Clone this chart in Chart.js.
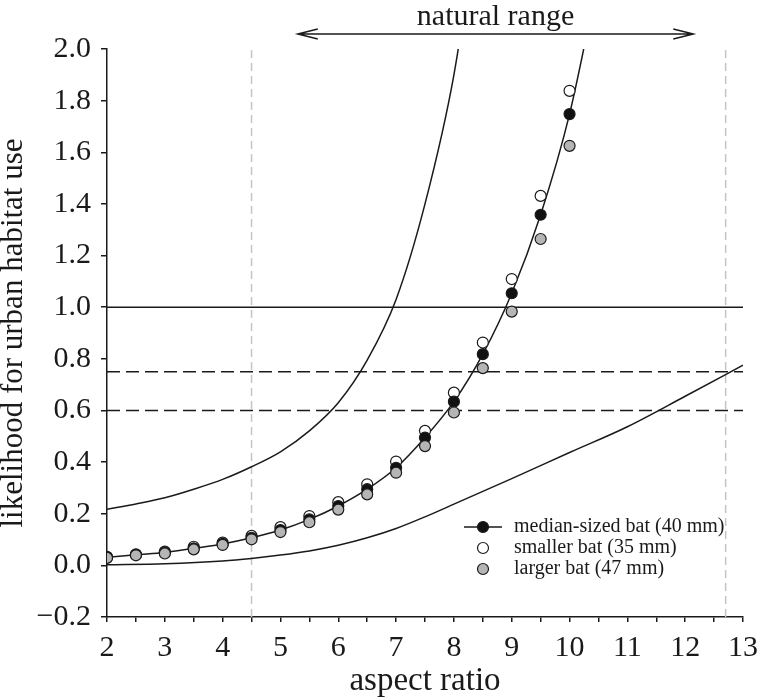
<!DOCTYPE html>
<html>
<head>
<meta charset="utf-8">
<script src="https://cdn.jsdelivr.net/npm/chart.js@4.4.0/dist/chart.umd.min.js"></script>
<style>
  body { margin: 0; background: #fff; }
  #wrap { width: 759px; height: 698px; }
</style>
</head>
<body>
<div id="wrap"><canvas id="chart"></canvas></div>
<script>
const FONT = '"Liberation Serif", "Times New Roman", serif';
const INK = '#1a1a1a';

// bat points (aspect ratio 2..10 in steps of 0.5)
const batX = [2, 2.5, 3, 3.5, 4, 4.5, 5, 5.5, 6, 6.5, 7, 7.5, 8, 8.5, 9, 9.5, 10];
const medianBat  = [0.031, 0.041, 0.050, 0.066, 0.083, 0.107, 0.137, 0.178, 0.230, 0.295, 0.378, 0.495, 0.634, 0.818, 1.054, 1.358, 1.748];
const smallerBat = [0.033, 0.043, 0.053, 0.072, 0.088, 0.114, 0.148, 0.191, 0.245, 0.314, 0.402, 0.521, 0.669, 0.863, 1.109, 1.431, 1.838];
const largerBat  = [0.029, 0.039, 0.046, 0.062, 0.079, 0.101, 0.129, 0.167, 0.216, 0.275, 0.359, 0.462, 0.592, 0.764, 0.983, 1.264, 1.625];

// fitted line for the median bat, running on past the top of the plot
const medianFitX = [2, 2.5, 3, 3.5, 4, 4.5, 5, 5.5, 6, 6.5, 7, 7.5, 8, 8.5, 9, 9.5, 10, 10.5];
const medianFit  = [0.031, 0.041, 0.050, 0.066, 0.083, 0.107, 0.137, 0.178, 0.230, 0.295, 0.378, 0.495, 0.634, 0.818, 1.054, 1.358, 1.748, 2.28];

// upper and lower curves
const upperX = [2, 2.5, 3, 3.5, 4, 4.5, 5, 5.5, 6, 6.5, 7, 7.5, 8, 8.5];
const upperCurve = [0.217, 0.238, 0.262, 0.295, 0.333, 0.382, 0.440, 0.521, 0.630, 0.795, 1.030, 1.400, 1.900, 2.65];
const lowerX = [2, 3, 4, 4.5, 5, 5.5, 6, 6.5, 7, 7.5, 8, 9, 10, 11, 12, 13];
const lowerCurve = [0.002, 0.006, 0.017, 0.027, 0.040, 0.056, 0.078, 0.107, 0.143, 0.188, 0.237, 0.336, 0.437, 0.537, 0.655, 0.775];

// reference lines
const solidLevels = [1.0];
const dashedLevels = [0.75, 0.6];
const rangeLimits = [4.5, 12.7];
const naturalRange = [5.3, 12.14];

const xRange = [2, 13];
const yRange = [-0.2, 2.0];

const legendItems = [
    { label: 'median-sized bat (40 mm)', fill: '#111111', line: true },
    { label: 'smaller bat (35 mm)', fill: '#ffffff', line: false },
    { label: 'larger bat (47 mm)', fill: '#b5b5b5', line: false }
];

const toXY = (xs, ys) => xs.map((x, i) => ({ x: x, y: ys[i] }));

function pointSet(ys, fill) {
    return {
        data: toXY(batX, ys),
        showLine: false,
        pointRadius: 5.5,
        pointBorderWidth: 1.2,
        pointBorderColor: INK,
        pointBackgroundColor: fill
    };
}

function lineSet(data, opts) {
    return Object.assign({
        data: data,
        showLine: true,
        borderColor: INK,
        borderWidth: 1.5,
        pointRadius: 0,
        fill: false
    }, opts || {});
}

const datasets = [
    pointSet(largerBat, '#b5b5b5'),
    pointSet(medianBat, '#111111'),
    pointSet(smallerBat, '#ffffff'),
    lineSet(toXY(medianFitX, medianFit), { cubicInterpolationMode: 'monotone' }),
    lineSet(toXY(upperX, upperCurve), { cubicInterpolationMode: 'monotone' }),
    lineSet(toXY(lowerX, lowerCurve), { cubicInterpolationMode: 'monotone' })
];
solidLevels.forEach(v => datasets.push(lineSet([{ x: xRange[0], y: v }, { x: xRange[1], y: v }])));
dashedLevels.forEach(v => datasets.push(lineSet([{ x: xRange[0], y: v }, { x: xRange[1], y: v }], { borderDash: [13, 6] })));
rangeLimits.forEach(v => datasets.push(lineSet([{ x: v, y: yRange[0] }, { x: v, y: yRange[1] }], { borderColor: '#c4c4c4', borderDash: [8, 5] })));

const overlay = {
    id: 'overlay',
    afterDraw(chart) {
        const ctx = chart.ctx;
        const xs = chart.scales.x;
        const area = chart.chartArea;
        ctx.save();
        ctx.strokeStyle = INK;
        ctx.fillStyle = INK;
        ctx.lineWidth = 1.5;

        // natural range arrow
        const x1 = xs.getPixelForValue(naturalRange[0]);
        const x2 = xs.getPixelForValue(naturalRange[1]);
        const ay = area.top - 15;
        ctx.beginPath();
        ctx.moveTo(x1, ay); ctx.lineTo(x2, ay);
        ctx.moveTo(x1 + 20, ay - 5); ctx.lineTo(x1, ay); ctx.lineTo(x1 + 20, ay + 5);
        ctx.moveTo(x2 - 20, ay - 5); ctx.lineTo(x2, ay); ctx.lineTo(x2 - 20, ay + 5);
        ctx.stroke();
        ctx.font = '30px ' + FONT;
        ctx.textAlign = 'center';
        ctx.textBaseline = 'alphabetic';
        ctx.fillText('natural range', (x1 + x2) / 2, ay - 9);

        // legend
        const lx = area.left + 376;
        let ly = area.top + 478;
        ctx.font = '20px ' + FONT;
        ctx.textAlign = 'left';
        ctx.textBaseline = 'middle';
        legendItems.forEach(item => {
            if (item.line) {
                ctx.beginPath();
                ctx.moveTo(lx - 19, ly); ctx.lineTo(lx + 19, ly);
                ctx.stroke();
            }
            ctx.beginPath();
            ctx.arc(lx, ly, 5.5, 0, Math.PI * 2);
            ctx.fillStyle = item.fill;
            ctx.fill();
            ctx.lineWidth = 1.2;
            ctx.stroke();
            ctx.lineWidth = 1.5;
            ctx.fillStyle = INK;
            ctx.fillText(item.label, lx + 31, ly);
            ly += 21;
        });
        ctx.restore();
    }
};

new Chart(document.getElementById('chart'), {
    type: 'scatter',
    data: { datasets: datasets },
    options: {
        responsive: true,
        maintainAspectRatio: false,
        animation: false,
        layout: { padding: { left: 0, top: 49, right: 16, bottom: 0 } },
        plugins: { legend: { display: false }, tooltip: { enabled: false } },
        scales: {
            x: {
                type: 'linear',
                min: xRange[0],
                max: xRange[1],
                afterFit: s => { s.height = 81; s.paddingRight = 0; s.paddingLeft = 0; },
                ticks: {
                    stepSize: 0.5,
                    autoSkip: false,
                    maxRotation: 0,
                    padding: 8,
                    color: INK,
                    font: { family: FONT, size: 30 },
                    callback: v => Math.abs(v - Math.round(v)) < 1e-9 ? String(Math.round(v)) : ''
                },
                grid: { drawOnChartArea: false, tickLength: 5, tickColor: INK, lineWidth: 1.5 },
                border: { color: INK, width: 1.5 },
                title: {
                    display: true,
                    text: 'aspect ratio',
                    color: INK,
                    font: { family: FONT, size: 33, lineHeight: 1.0 },
                    padding: { top: 0, bottom: 0 }
                }
            },
            y: {
                min: yRange[0],
                max: yRange[1],
                afterFit: s => { s.width = 107; },
                ticks: {
                    stepSize: 0.2,
                    padding: 10,
                    color: INK,
                    font: { family: FONT, size: 30 },
                    callback: v => {
                        if (Math.abs(v) < 1e-9) return '0.0';
                        return v < 0 ? '\u2212' + Math.abs(v).toFixed(1) : v.toFixed(1);
                    }
                },
                grid: { drawOnChartArea: false, tickLength: 6, tickColor: INK, lineWidth: 1.5 },
                border: { color: INK, width: 1.5 },
                title: {
                    display: true,
                    text: 'likelihood for urban habitat use',
                    color: INK,
                    font: { family: FONT, size: 31, lineHeight: 0.9 },
                    padding: { top: 0, bottom: 0 }
                }
            }
        }
    },
    plugins: [overlay]
});
</script>
</body>
</html>
